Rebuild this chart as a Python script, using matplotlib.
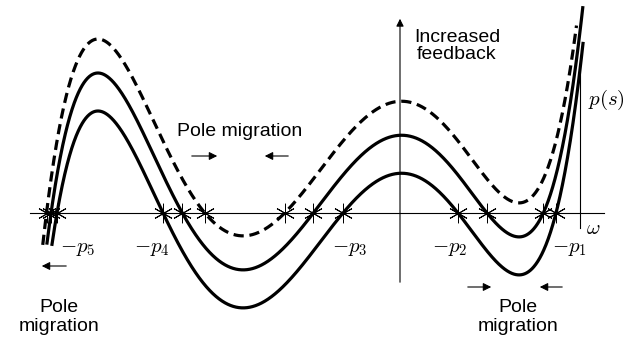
import numpy as np
import matplotlib.pyplot as plt

plt.rcParams["font.family"] = ["Liberation Sans", "DejaVu Sans"]
plt.rcParams["mathtext.fontset"] = "cm"

# poles of p(s) on the omega axis (lowest curve), origin on the vertical axis
poles = [-343, -237, -57, 58, 156]
pole_labels = [r"$-p_5$", r"$-p_4$", r"$-p_3$", r"$-p_2$", r"$-p_1$"]
pole_label_x = [-322, -248, -50, 50, 169]
left_peak = 102            # height of first hump of the lowest curve
gains = [0, 38, 72]        # increased feedback: lowest, middle, dashed
line_styles = ["-", "-", "--"]
left_end = -32             # all curves stop here on the left
right_end = [171, 206, 188]

coeffs = np.poly(poles)
xs = np.arange(-380, 200, 0.25)
hump = (xs > poles[0]) & (xs < poles[1])
coeffs = coeffs * left_peak / np.polyval(coeffs, xs[hump]).max()

fig = plt.figure(figsize=(6.39, 3.45), dpi=100)
ax = fig.add_axes([0, 0, 1, 1])
ax.set_xlim(-400, 239)
ax.set_ylim(-132, 213)
ax.axis("off")

# axes
ax.plot([-370, 204], [0, 0], color="black", lw=0.8, zorder=1)
ax.annotate("", xy=(0, 197), xytext=(0, -72),
            arrowprops=dict(arrowstyle="-|>", lw=0.8, color="black", mutation_scale=11))
ax.plot([180, 180], [153, -15], color="black", lw=0.8, zorder=1)

for g, ls, top in zip(gains, line_styles, right_end):
    c = coeffs.copy()
    c[-1] += g
    ys = np.polyval(c, xs)
    i0 = np.argmax(ys > left_end)
    i1 = np.where(ys <= top)[0][-1]
    line, = ax.plot(xs[i0:i1 + 1], ys[i0:i1 + 1], color="black", lw=2.3, ls=ls, zorder=3)
    if ls == "--":
        line.set_dashes((3.2, 1.8))
    r = np.roots(c)
    r = np.sort(r[np.abs(r.imag) < 1e-6].real)
    ax.plot(r, np.zeros_like(r), ls="none", marker=(6, 2, 0), ms=14,
            mec="black", mew=0.7, color="black", zorder=2)

for lab, x in zip(pole_labels, pole_label_x):
    ax.text(x, -35, lab, fontsize=15, ha="center", va="center")

ax.text(206, 113, r"$p(s)$", fontsize=15, ha="center", va="center")
ax.text(193, -15, r"$\omega$", fontsize=15, ha="center", va="center")

ax.text(57, 167, "Increased\nfeedback", fontsize=14, ha="center", va="center",
        linespacing=1.05)
ax.text(-160, 81, "Pole migration", fontsize=14, ha="center", va="center")
ax.text(-341, -104, "Pole\nmigration", fontsize=14, ha="center", va="center",
        linespacing=1.2)
ax.text(118, -104, "Pole\nmigration", fontsize=14, ha="center", va="center",
        linespacing=1.2)

arrow = dict(arrowstyle="-|>", lw=0.8, color="black", mutation_scale=12)
ax.annotate("", xy=(-180, 57), xytext=(-211, 57), arrowprops=arrow)
ax.annotate("", xy=(-138, 57), xytext=(-109, 57), arrowprops=arrow)
ax.annotate("", xy=(-361, -53), xytext=(-331, -53), arrowprops=arrow)
ax.annotate("", xy=(94, -74), xytext=(65, -74), arrowprops=arrow)
ax.annotate("", xy=(137, -74), xytext=(165, -74), arrowprops=arrow)

fig.savefig("out.png", dpi=100)
